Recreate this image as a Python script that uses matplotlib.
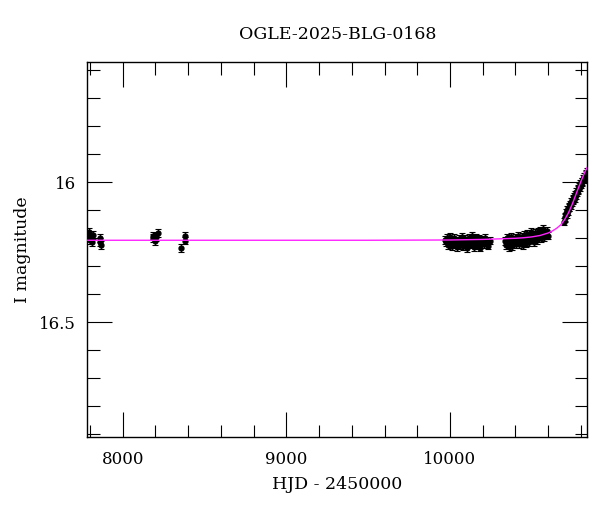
import matplotlib
matplotlib.use("Agg")
import matplotlib.pyplot as plt
from matplotlib.ticker import MultipleLocator, FuncFormatter

title = "OGLE-2025-BLG-0168"
xlabel = "HJD - 2450000"
ylabel = "I magnitude"

# early seasons
t_early = [7793, 7797, 7801, 7806, 7812, 7818, 7861, 7864, 7866,
           8184, 8188, 8196, 8203, 8215, 8356, 8380, 8382]
m_early = [16.178, 16.192, 16.206, 16.199, 16.213, 16.188, 16.198, 16.213, 16.225,
           16.200, 16.190, 16.210, 16.195, 16.182, 16.236, 16.191, 16.208]

# 2023 season
t_s1 = [9972, 9978, 9983, 9988, 9994, 9999, 10004, 10010, 10015, 10021, 10026, 10032,
        10038, 10043, 10049, 10055, 10061, 10066, 10072, 10078, 10084, 10090, 10096,
        10102, 10108, 10114, 10120, 10126, 10132, 10138, 10144, 10150, 10156, 10162,
        10168, 10174, 10180, 10186, 10192, 10198, 10205, 10212, 10220, 10230, 10242]
m_s1 = [16.205, 16.215, 16.198, 16.224, 16.210, 16.196, 16.220, 16.207, 16.227, 16.212,
        16.200, 16.221, 16.208, 16.232, 16.214, 16.201, 16.223, 16.209, 16.194, 16.228,
        16.213, 16.202, 16.218, 16.235, 16.211, 16.198, 16.222, 16.207, 16.192, 16.216,
        16.230, 16.203, 16.213, 16.197, 16.224, 16.210, 16.201, 16.233, 16.215, 16.204,
        16.221, 16.198, 16.212, 16.226, 16.208]

# 2024 season
t_s2 = [10336, 10341, 10347, 10352, 10358, 10363, 10369, 10375, 10380, 10386, 10392,
        10398, 10404, 10410, 10416, 10422, 10428, 10434, 10440, 10446, 10452, 10458,
        10464, 10470, 10476, 10482, 10488, 10494, 10500, 10506, 10512, 10518, 10524,
        10530, 10536, 10542, 10548, 10554, 10560, 10566, 10572, 10578, 10584, 10590, 10598]
m_s2 = [16.210, 16.224, 16.198, 16.215, 16.230, 16.203, 16.218, 16.195, 16.227, 16.209,
        16.214, 16.199, 16.222, 16.206, 16.191, 16.219, 16.202, 16.212, 16.196, 16.224,
        16.188, 16.207, 16.217, 16.184, 16.200, 16.213, 16.193, 16.176, 16.204, 16.188,
        16.215, 16.181, 16.197, 16.207, 16.178, 16.192, 16.173, 16.199, 16.184, 16.168,
        16.195, 16.180, 16.188, 16.174, 16.190]

# 2025 season (rising)
t_s3 = [10697, 10701, 10705, 10709, 10713, 10717, 10721, 10725, 10729, 10733, 10737,
        10741, 10745, 10749, 10753, 10757, 10761, 10765, 10769, 10773, 10777, 10781,
        10785, 10789, 10793, 10797, 10801, 10805, 10809, 10813, 10817, 10821, 10825,
        10829, 10833, 10836]
m_s3 = [16.140, 16.128, 16.125, 16.108, 16.112, 16.098, 16.101, 16.090, 16.088, 16.079,
        16.081, 16.070, 16.072, 16.060, 16.063, 16.052, 16.055, 16.044, 16.046, 16.035,
        16.036, 16.025, 16.028, 16.015, 16.018, 16.005, 16.008, 15.997, 15.999, 15.988,
        15.990, 15.980, 15.981, 15.972, 15.970, 15.963]

err_early = 0.014
err_dense = 0.014

# model curve
t_model = [7784, 9500, 10000, 10200, 10300, 10400, 10450, 10500, 10550, 10600, 10625,
           10650, 10675, 10700, 10725, 10750, 10775, 10800, 10825, 10839]
m_model = [16.207, 16.207, 16.206, 16.204, 16.202, 16.200, 16.198, 16.195, 16.190, 16.181,
           16.174, 16.165, 16.153, 16.134, 16.108, 16.074, 16.035, 15.997, 15.962, 15.946]

plt.rcParams['font.family'] = ['DejaVu Serif']
fig = plt.figure(figsize=(6.0, 5.12), dpi=100)
ax = fig.add_axes([0.1455, 0.147, 0.8333, 0.7325])

ekw = dict(fmt='o', color='black', ms=3.5, capsize=2.2, elinewidth=0.8,
           capthick=0.8, zorder=2)
ax.errorbar(t_early, m_early, yerr=err_early, **ekw)
for t, m in ((t_s1, m_s1), (t_s2, m_s2), (t_s3, m_s3)):
    ax.errorbar(t, m, yerr=err_dense, **ekw)

ax.plot(t_model, m_model, color='#ff22ff', lw=1.0, zorder=3)

ax.set_xlim(7784, 10839)
ax.set_ylim(16.909, 15.569)

ax.xaxis.set_major_locator(MultipleLocator(1000))
ax.xaxis.set_minor_locator(MultipleLocator(200))
ax.yaxis.set_major_locator(MultipleLocator(0.5))
ax.yaxis.set_minor_locator(MultipleLocator(0.1))
ax.yaxis.set_major_formatter(FuncFormatter(lambda v, p: f"{v:g}"))

ax.tick_params(which='both', direction='in', top=True, right=True, width=0.8,
               labelsize=12, colors='black')
ax.tick_params(which='major', length=18)
ax.tick_params(axis='x', which='major', pad=10)
ax.tick_params(axis='y', which='major', pad=8)
ax.tick_params(which='minor', length=9)
for s in ax.spines.values():
    s.set_linewidth(1.0)

ax.set_xlabel(xlabel, fontsize=12.5, labelpad=6)
ax.set_ylabel(ylabel, fontsize=12.5, labelpad=6)
ax.set_title(title, fontsize=12.5, pad=16)

fig.savefig("out.png", dpi=100)
